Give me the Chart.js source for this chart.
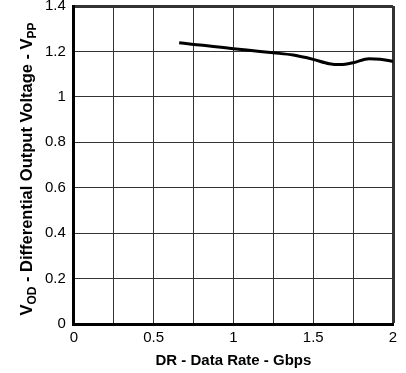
<!DOCTYPE html>
<html>
<head>
<meta charset="utf-8">
<script src="https://cdn.jsdelivr.net/npm/chart.js@4"></script>
<style>
  body { margin: 0; background: #fff; }
  #wrap { width: 406px; height: 373px; }
</style>
</head>
<body>
<div id="wrap"><canvas id="c"></canvas></div>
<script>
// data rate (Gbps) vs differential output voltage (Vpp)
var rate = [0.66, 0.75, 0.875, 1.0, 1.125, 1.25, 1.375, 1.5, 1.6, 1.67, 1.75, 1.85, 1.92, 2.0, 2.07];
var vod  = [1.238, 1.231, 1.222, 1.212, 1.203, 1.194, 1.184, 1.165, 1.146, 1.142, 1.150, 1.168, 1.166, 1.156, 1.148];

var points = rate.map(function (x, i) { return { x: x, y: vod[i] }; });

var FONT = '"Liberation Sans", Arial, sans-serif';

// y title has subscripts, so draw it by hand
var yTitle = {
  id: 'yTitle',
  afterDraw: function (chart) {
    var ctx = chart.ctx;
    var parts = [['V', 0], ['OD', 1], [' - Differential Output Voltage - V', 0], ['PP', 1]];
    var big = 'bold 16.5px ' + FONT;
    var small = 'bold 12px ' + FONT;
    ctx.save();
    var total = 0;
    parts.forEach(function (p) { ctx.font = p[1] ? small : big; total += ctx.measureText(p[0]).width; });
    ctx.translate(32, 169);
    ctx.rotate(-Math.PI / 2);
    ctx.fillStyle = '#000';
    ctx.textBaseline = 'alphabetic';
    var x = -total / 2;
    parts.forEach(function (p) {
      ctx.font = p[1] ? small : big;
      ctx.fillText(p[0], x, p[1] ? 4 : 0);
      x += ctx.measureText(p[0]).width;
    });
    ctx.restore();
  }
};

new Chart(document.getElementById('c'), {
  type: 'line',
  data: {
    datasets: [{
      data: points,
      borderColor: '#000',
      borderWidth: 3,
      pointRadius: 0,
      cubicInterpolationMode: 'monotone',
      clip: { left: 0, top: 0, bottom: 0, right: 20 },
      fill: false
    }]
  },
  options: {
    responsive: true,
    maintainAspectRatio: false,
    animation: false,
    layout: { padding: { left: 37, right: 13, top: 6, bottom: 3 } },
    plugins: { legend: { display: false }, tooltip: { enabled: false } },
    scales: {
      x: {
        type: 'linear',
        min: 0, max: 2,
        border: { display: true, color: '#000', width: 3 },
        grid: {
          color: '#333',
          lineWidth: function (c) { return (c.tick && c.tick.value === 2) ? 3 : 1; },
          drawTicks: false
        },
        ticks: {
          stepSize: 0.25,
          padding: 5,
          color: '#000',
          font: { family: FONT, size: 15 },
          callback: function (v) { return (Math.abs(v * 2 - Math.round(v * 2)) < 1e-6) ? String(v) : ''; }
        },
        title: {
          display: true,
          text: 'DR - Data Rate - Gbps',
          color: '#000',
          font: { family: FONT, size: 15, weight: 'bold' },
          padding: { top: 0, bottom: 0 }
        }
      },
      y: {
        min: 0, max: 1.4,
        border: { display: true, color: '#000', width: 3 },
        grid: {
          color: '#333',
          lineWidth: function (c) { return (c.tick && Math.abs(c.tick.value - 1.4) < 1e-6) ? 3 : 1; },
          drawTicks: false
        },
        ticks: {
          stepSize: 0.2,
          padding: 8,
          color: '#000',
          font: { family: FONT, size: 15 },
          callback: function (v) { return String(Math.round(v * 10) / 10); }
        },
        afterFit: function (s) { s.paddingTop = 0; }
      }
    }
  },
  plugins: [yTitle]
});
</script>
</body>
</html>
